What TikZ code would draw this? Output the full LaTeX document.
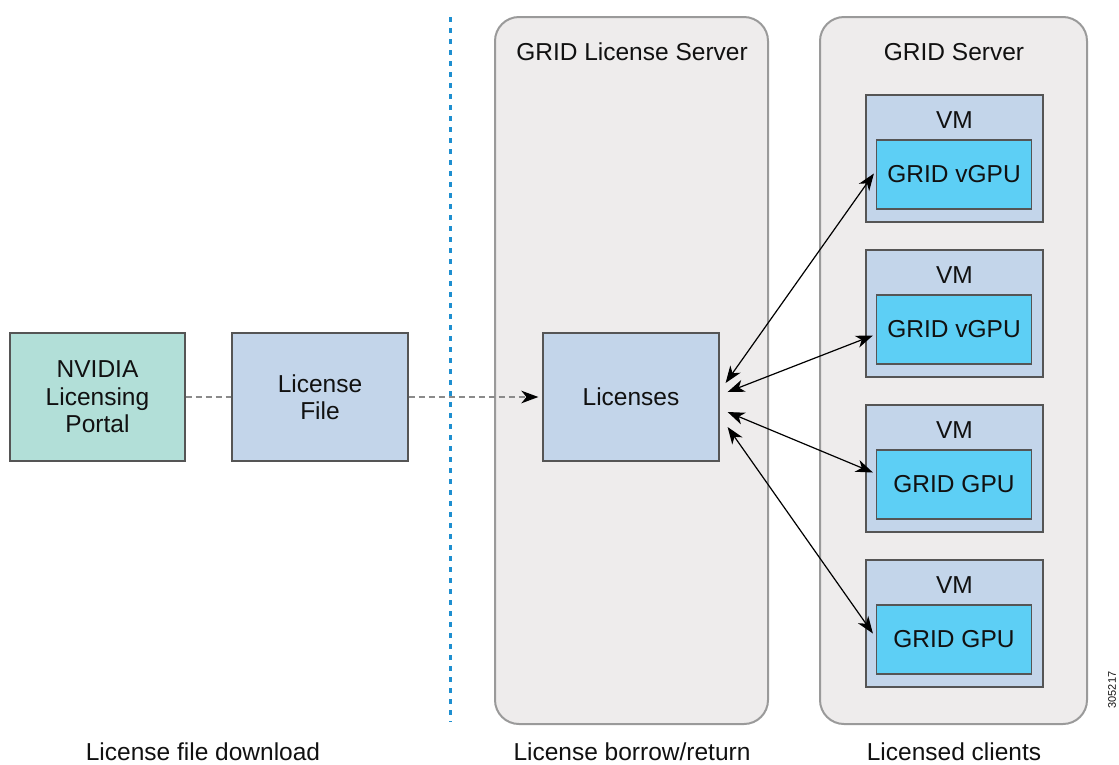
\documentclass[tikz,border=0pt]{standalone}
\usepackage{fontspec}
\setmainfont{Liberation Sans}
\usetikzlibrary{arrows.meta}
\definecolor{panelfill}{HTML}{EEECEC}
\definecolor{paneldraw}{HTML}{9A9A9A}
\definecolor{portalfill}{HTML}{B2DFD8}
\definecolor{boxfill}{HTML}{C3D5EA}
\definecolor{gpufill}{HTML}{5DCFF5}
\definecolor{boxdraw}{HTML}{555555}
\definecolor{dotblue}{HTML}{1E8FD0}
\definecolor{dashgrey}{HTML}{8A8A8A}
\definecolor{txt}{HTML}{111111}
\tikzset{
  every node/.style={text=txt, font=\fontsize{24.5}{27.5}\selectfont},
  panel/.style={draw=paneldraw, fill=panelfill, line width=2pt, rounded corners=24pt, inner sep=0pt},
  plainbox/.style={draw=boxdraw, line width=1.2pt, inner sep=0pt, align=center, minimum width=176pt, minimum height=128pt},
  vmbox/.style={draw=boxdraw, fill=boxfill, line width=1.2pt, inner sep=0pt, minimum width=177pt, minimum height=127pt},
  gpubox/.style={draw=boxdraw, fill=gpufill, line width=1.2pt, inner sep=0pt, minimum width=155pt, minimum height=69pt},
  label/.style={inner sep=0pt},
  dashconn/.style={draw=dashgrey, line width=2pt, dash pattern=on 6pt off 4pt},
  biarrow/.style={draw=black, line width=1.2pt, {Stealth[length=17pt,width=12.5pt,inset=5pt]}-{Stealth[length=17pt,width=12.5pt,inset=5pt]}}
}
\begin{document}
\begin{tikzpicture}[x=1pt,y=-1pt]
\useasboundingbox (0,0) rectangle (1119,764);
% panels
\node[panel, minimum width=273pt, minimum height=707pt] (lsp) at (631.5,370.5) {};
\node[panel, minimum width=267pt, minimum height=707pt] (gsp) at (953.5,370.5) {};
\node[label] (lst) at (632,52) {GRID License Server};
\node[label] (gst) at (954,52) {GRID Server};
% divider
\coordinate (dtop) at (450,17);
\coordinate (dbot) at (450,722);
\draw[dotblue, line width=3pt, dash pattern=on 5pt off 6pt] (dtop) -- (dbot);
% left boxes
\node[plainbox, fill=portalfill, minimum width=175pt] (portal) at (97.5,397) {NVIDIA\\Licensing\\Portal};
\node[plainbox, fill=boxfill] (lfile) at (320,397) {License\\File};
\node[plainbox, fill=boxfill] (lic) at (631,397) {Licenses};
% VMs
\foreach \i/\y/\t in {1/158.5/GRID vGPU, 2/313.5/GRID vGPU, 3/468.5/GRID GPU, 4/623.5/GRID GPU}{
  \node[vmbox] (vm\i) at (954.5,\y) {};
  \node[label] (vml\i) at (954.5,\y-38) {VM};
  \node[gpubox] (g\i) at (954,\y+16) {\t};
}
% connectors
\draw[dashconn] (portal.east) -- (lfile.west);
\draw[dashconn, -{Stealth[length=17pt,width=12.5pt,inset=5pt,black]}] (lfile.east) -- ([xshift=-4pt]lic.west);
\draw[biarrow] ([shift={(6,-14)}]lic.east) -- ([shift={(-2,-1)}]g1.west);
\draw[biarrow] ([shift={(8,-5)}]lic.east) -- ([shift={(-3,6)}]g2.west);
\draw[biarrow] ([shift={(8,15)}]lic.east) -- ([shift={(-3,-12)}]g3.west);
\draw[biarrow] ([shift={(8,30)}]lic.east) -- ([shift={(-3,-6)}]g4.west);
% bottom labels
\node[label] (b1) at (203,752) {License file download};
\node[label] (b2) at (632,752) {License borrow/return};
\node[label] (b3) at (954,752) {Licensed clients};
\node[label, rotate=90, font=\fontsize{11}{12}\selectfont] (fig) at (1112,690) {305217};
\end{tikzpicture}
\end{document}
